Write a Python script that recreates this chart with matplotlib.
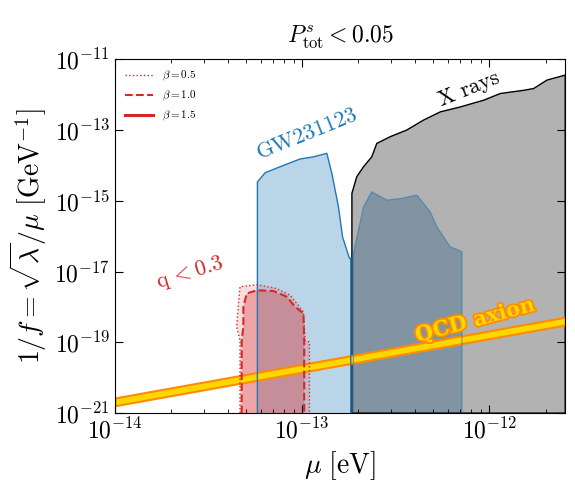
import numpy as np
import matplotlib.pyplot as plt
import matplotlib.patheffects as pe

plt.rcParams['mathtext.fontset'] = 'cm'
plt.rcParams['font.family'] = 'serif'
plt.rcParams['font.serif'] = ['cmr10', 'DejaVu Serif']
plt.rcParams['axes.formatter.use_mathtext'] = True

# GW231123 exclusion (log10 mu, log10 1/f)
gw_mu = [-13.239, -13.239, -13.198, -13.118, -13.011, -12.939, -12.868, -12.841, -12.806, -12.784, -12.747, -12.740, -12.740]
gw_g = [-21, -14.47, -14.21, -14.04, -13.82, -13.76, -13.66, -14.23, -15.17, -16.02, -16.63, -16.63, -21]
gw2_mu = [-12.726, -12.726, -12.672, -12.628, -12.547, -12.476, -12.387, -12.316, -12.28, -12.209, -12.146, -12.146]
gw2_g = [-21, -16.49, -15.17, -14.75, -14.98, -14.94, -14.84, -15.31, -15.74, -16.30, -16.44, -21]
# X ray bound
xr_mu = [-12.734, -12.734, -12.708, -12.672, -12.628, -12.601, -12.529, -12.44, -12.351, -12.262, -12.155, -12.03, -11.941, -11.816, -11.763, -11.691, -11.594, -11.594]
xr_g = [-21, -14.79, -14.32, -14.04, -13.76, -13.38, -13.19, -13.0, -12.72, -12.49, -12.35, -12.16, -11.97, -11.88, -11.83, -11.59, -11.45, -21]
# q < 0.3 contours
b10_mu = [-13.323, -13.323, -13.314, -13.314, -13.296, -13.242, -13.153, -13.082, -13.037, -12.993, -12.989, -12.989]
b10_g = [-21, -18.94, -18.56, -18.0, -17.62, -17.53, -17.55, -17.71, -18.0, -18.18, -18.94, -21]
b05_mu = [-13.332, -13.332, -13.35, -13.34, -13.332, -13.242, -13.135, -13.064, -12.993, -12.984, -12.961, -12.961]
b05_g = [-21, -18.94, -18.56, -17.9, -17.43, -17.37, -17.48, -17.67, -18.14, -18.94, -18.99, -21]
# QCD axion band
qcd_mu = [-14.0, -11.594]
qcd_g = [-20.68, -18.40]

p = lambda a: 10.0 ** np.array(a)

fig, ax = plt.subplots(figsize=(5.75, 4.93), dpi=100)
fig.subplots_adjust(left=0.2, right=0.983, top=0.88, bottom=0.162)

ax.fill(p(gw_mu), p(gw_g), color='tab:blue', alpha=0.3, lw=0)
ax.plot(p(gw_mu), p(gw_g), color='tab:blue', lw=1)
ax.fill(p(gw2_mu), p(gw2_g), color='tab:blue', alpha=0.3, lw=0)
ax.plot(p(gw2_mu), p(gw2_g), color='tab:blue', lw=1, alpha=0.5)
ax.fill(p(xr_mu), p(xr_g), facecolor=(0, 0, 0, 0.3), edgecolor='k', lw=1)

ax.fill(p(b05_mu), p(b05_g), color='tab:red', alpha=0.15, lw=0)
ax.fill(p(b10_mu), p(b10_g), color='tab:red', alpha=0.3, lw=0)
ax.plot(p(b05_mu), p(b05_g), color='tab:red', ls=':', lw=1)
ax.plot(p(b10_mu), p(b10_g), color='tab:red', ls='--', lw=1.5)

x = np.logspace(qcd_mu[0], qcd_mu[1], 50)
yc = 10 ** np.interp(np.log10(x), qcd_mu, qcd_g)
ax.fill_between(x, yc / 10**0.11, yc * 10**0.11, facecolor='gold', edgecolor='darkorange', lw=1.5)

ax.plot([], [], color='tab:red', ls=':', lw=1, label=r'$\beta=0.5$')
ax.plot([], [], color='tab:red', ls='--', lw=1.5, label=r'$\beta=1.0$')
ax.plot([], [], color='tab:red', ls='-', lw=2.2, label=r'$\beta=1.5$')
ax.legend(loc='upper left', frameon=False, fontsize=8, handlelength=2.5)

ax.text(0.427, 0.79, 'GW231123', color='tab:blue', fontsize=16, rotation=22, ha='center', va='center',
        transform=ax.transAxes)
ax.text(0.787, 0.917, 'X rays', color='k', fontsize=16, rotation=22, ha='center', va='center',
        transform=ax.transAxes)
ax.text(0.167, 0.395, r'$\mathrm{q}\,<0.3$', color='tab:red', fontsize=16, rotation=17, ha='center', va='center',
        transform=ax.transAxes)
ax.text(0.8, 0.262, 'QCD axion', color='gold', fontsize=15, fontweight='bold', rotation=15,
        ha='center', va='center', family='DejaVu Serif', transform=ax.transAxes,
        path_effects=[pe.withStroke(linewidth=2.5, foreground='darkorange')])

ax.set_xscale('log')
ax.set_yscale('log')
ax.set_xlim(1e-14, 10**-11.594)
ax.set_ylim(1e-21, 1e-11)
ax.set_yticks([10.0**k for k in range(-21, -10, 2)])
ax.tick_params(which='both', direction='in', top=True, right=True, labelsize=17)
ax.tick_params(which='major', length=6)
ax.tick_params(which='minor', length=3)
ax.set_xlabel(r'$\mu\ [\mathrm{eV}]$', fontsize=20)
ax.set_ylabel(r'$1/f=\sqrt{\lambda}/\mu\ [\mathrm{GeV}^{-1}]$', fontsize=20)
ax.set_title(r'$P^s_{\rm tot}<0.05$', fontsize=17, pad=12)

fig.savefig('out.png')
